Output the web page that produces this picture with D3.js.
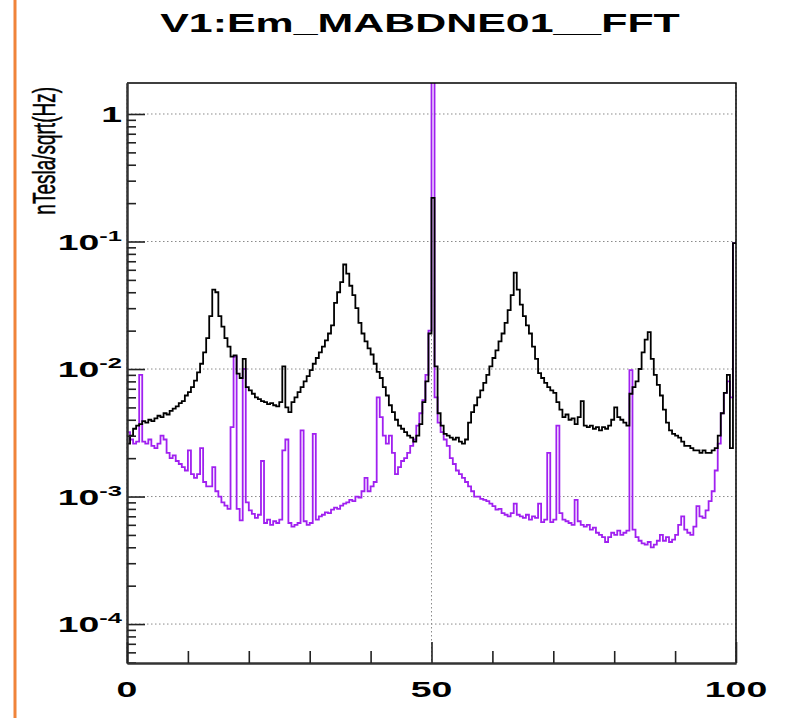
<!DOCTYPE html>
<html>
<head>
<meta charset="utf-8">
<script src="https://cdn.jsdelivr.net/npm/d3@7"></script>
<style>
  html, body { margin: 0; padding: 0; background: #fff; }
  svg { display: block; font-family: "Liberation Sans", Arial, sans-serif; }
</style>
</head>
<body>
<svg id="chart" width="785" height="718"></svg>
<script>
// chart.js — FFT spectrum, two step histograms on a log axis

const TITLE = "V1:Em_MABDNE01__FFT";
const Y_TITLE = "nTesla/sqrt(Hz)";
const BIN_WIDTH = 0.5;   // Hz

const X_LABELS = [0, 50, 100];
const X_MINOR = [10, 20, 30, 40, 60, 70, 80, 90];
const Y_DECADES = [1e-4, 1e-3, 1e-2, 1e-1, 1];
const Y_LABELS = [["10", "-4"], ["10", "-3"], ["10", "-2"], ["10", "-1"], ["1", ""]];

// black trace, one value per 0.5 Hz bin (0 .. 99.5 Hz)
const blackTrace = [
  0.0026,0.0030,0.0034,0.0036,0.0037,0.0039,0.0038,0.0040,0.0039,0.0041,
  0.0043,0.0042,0.0045,0.0044,0.0047,0.0049,0.0051,0.0054,0.0056,0.0062,
  0.0066,0.0072,0.0081,0.0094,0.0110,0.0135,0.0175,0.0260,0.0420,0.0400,
  0.0260,0.0215,0.0175,0.0150,0.0125,0.0128,0.0092,0.0085,0.0120,0.0072,
  0.0068,0.0064,0.0060,0.0058,0.0056,0.0055,0.0053,0.0054,0.0052,0.0051,
  0.0055,0.0105,0.0050,0.0046,0.0055,0.0060,0.0066,0.0072,0.0080,0.0088,
  0.0098,0.0110,0.0122,0.0135,0.0150,0.0168,0.0190,0.0220,0.0330,0.0400,
  0.0480,0.0660,0.0560,0.0450,0.0380,0.0300,0.0230,0.0190,0.0165,0.0145,
  0.0130,0.0110,0.0095,0.0085,0.0072,0.0062,0.0052,0.0046,0.0040,0.0036,
  0.0034,0.0032,0.0030,0.0029,0.0027,0.0030,0.0037,0.0055,0.0080,0.0190,
  0.2200,0.0105,0.0045,0.0036,0.0031,0.0030,0.0029,0.0028,0.0029,0.0027,
  0.0026,0.0028,0.0038,0.0046,0.0052,0.0060,0.0068,0.0078,0.0090,0.0105,
  0.0122,0.0140,0.0165,0.0190,0.0230,0.0290,0.0380,0.0570,0.0420,0.0320,
  0.0260,0.0220,0.0190,0.0150,0.0120,0.0093,0.0085,0.0078,0.0072,0.0068,
  0.0065,0.0055,0.0048,0.0042,0.0044,0.0040,0.0041,0.0037,0.0042,0.0056,
  0.0036,0.0035,0.0036,0.0034,0.0035,0.0033,0.0035,0.0034,0.0036,0.0040,
  0.0050,0.0042,0.0040,0.0038,0.0036,0.0064,0.0072,0.0080,0.0100,0.0135,
  0.0170,0.0195,0.0120,0.0090,0.0075,0.0062,0.0048,0.0038,0.0033,0.0031,
  0.0030,0.0029,0.0027,0.0025,0.0025,0.0024,0.0023,0.0023,0.0022,0.0023,
  0.0022,0.0022,0.0023,0.0024,0.0030,0.0045,0.0065,0.0090,0.0024,0.0970
];

// violet trace, same bins
const violetTrace = [
  0.0032,0.0028,0.0026,0.0027,0.0090,0.0027,0.0026,0.0028,0.0025,0.0024,
  0.0026,0.0030,0.0028,0.0022,0.0020,0.0021,0.0019,0.0018,0.0017,0.0016,
  0.0023,0.0015,0.0014,0.0015,0.0024,0.0013,0.0012,0.0012,0.0017,0.0011,
  0.0010,0.00090,0.00085,0.00080,0.0035,0.0125,0.00080,0.00065,0.0100,0.00090,
  0.00078,0.00073,0.00068,0.00072,0.0019,0.00062,0.00066,0.00060,0.00064,0.00062,
  0.00066,0.0023,0.0028,0.00062,0.00058,0.00060,0.00062,0.0033,0.00064,0.00060,
  0.00062,0.0031,0.00066,0.00070,0.00072,0.00075,0.00074,0.00079,0.00082,0.00080,
  0.00085,0.00088,0.00090,0.00094,0.00092,0.0010,0.00098,0.0011,0.0014,0.0011,
  0.0012,0.0013,0.0060,0.0042,0.0030,0.0026,0.0030,0.0022,0.0015,0.0017,
  0.0019,0.0020,0.0022,0.0025,0.0028,0.0036,0.0045,0.0057,0.0090,0.0200,
  3.0,0.0060,0.0038,0.0032,0.0028,0.0025,0.0020,0.0018,0.0016,0.0015,
  0.0014,0.0013,0.0012,0.0011,0.0010,0.0010,0.00096,0.00094,0.00092,0.00088,
  0.00084,0.00079,0.00080,0.00074,0.00072,0.00070,0.00074,0.00088,0.00072,0.00070,
  0.00068,0.00072,0.00066,0.00070,0.00068,0.00088,0.00063,0.00066,0.0022,0.00063,
  0.00066,0.0036,0.00074,0.00066,0.00064,0.00062,0.00060,0.00094,0.00064,0.00060,
  0.00058,0.00060,0.00055,0.00057,0.00052,0.00050,0.00048,0.00044,0.00048,0.00052,
  0.00050,0.00054,0.00050,0.00052,0.00054,0.0098,0.00055,0.00048,0.00045,0.00043,
  0.00042,0.00044,0.00040,0.00042,0.00045,0.00050,0.00045,0.00048,0.00044,0.00046,
  0.00050,0.00060,0.00070,0.00055,0.00052,0.00050,0.00058,0.00084,0.00070,0.00068,
  0.00078,0.00092,0.0011,0.0016,0.0026,0.0045,0.0065,0.0080,0.0060,0.0970
];

const SX = 1.7;   // the picture is stretched sideways; text follows it

const svg = d3.select("#chart");
const L = 127, R = 736, T = 83, B = 663;

const x = d3.scaleLinear().domain([0, 100]).range([L, R]);
const y = d3.scaleLog().domain([4.95e-5, 1.75]).range([B, T]);

// orange edge line on the left of the page
svg.append("line").attr("x1", 15).attr("x2", 15).attr("y1", 0).attr("y2", 718)
  .attr("stroke", "#f0843a").attr("stroke-width", 3);

// grid
const grid = svg.append("g").attr("stroke", "#8a8a8a").attr("stroke-width", 1)
  .attr("stroke-dasharray", "1.5,2.5");
grid.selectAll(".gy").data(Y_DECADES).join("line")
  .attr("x1", L).attr("x2", R).attr("y1", d => y(d)).attr("y2", d => y(d));
grid.selectAll(".gx").data(X_LABELS).join("line")
  .attr("y1", T).attr("y2", B).attr("x1", d => x(d)).attr("x2", d => x(d));

// histograms
svg.append("clipPath").attr("id", "plotclip").append("rect")
  .attr("x", L).attr("y", T).attr("width", R - L).attr("height", B - T);

function stepPoints(vals) {
  const pts = vals.map((v, i) => [i * BIN_WIDTH, v]);
  pts.push([vals.length * BIN_WIDTH, vals[vals.length - 1]]);
  return pts;
}
const stepLine = d3.line().x(d => x(d[0])).y(d => y(d[1])).curve(d3.curveStepAfter);

const plot = svg.append("g").attr("clip-path", "url(#plotclip)");
plot.append("path").datum(stepPoints(violetTrace)).attr("d", stepLine)
  .attr("fill", "none").attr("stroke", "#a020f0").attr("stroke-width", 1.8);
plot.append("path").datum(stepPoints(blackTrace)).attr("d", stepLine)
  .attr("fill", "none").attr("stroke", "#000").attr("stroke-width", 1.8);

// frame
svg.append("path").attr("d", `M${L},${T}H${R}V${B}`).attr("fill", "none")
  .attr("stroke", "#000").attr("stroke-width", 1.5);

// y axis ticks (inward)
const yMinor = [];
[1e-5, 1e-4, 1e-3, 1e-2, 1e-1].forEach(dec => {
  for (let k = 2; k <= 9; k++) {
    const v = dec * k;
    if (v >= y.domain()[0] && v <= y.domain()[1]) yMinor.push(v);
  }
});
const yAxisMajor = d3.axisLeft(y).tickValues(Y_DECADES).tickSize(-18).tickSizeOuter(0).tickFormat("");
const yAxisMinor = d3.axisLeft(y).tickValues(yMinor).tickSize(-9).tickSizeOuter(0).tickFormat("");
const gy1 = svg.append("g").attr("transform", `translate(${L},0)`).call(yAxisMajor);
const gy2 = svg.append("g").attr("transform", `translate(${L},0)`).call(yAxisMinor);

// x axis ticks (inward)
const xAxisMajor = d3.axisBottom(x).tickValues(X_LABELS).tickSize(-21).tickSizeOuter(0).tickFormat("");
const xAxisMinor = d3.axisBottom(x).tickValues(X_MINOR).tickSize(-12).tickSizeOuter(0).tickFormat("");
const gx1 = svg.append("g").attr("transform", `translate(0,${B})`).call(xAxisMajor);
const gx2 = svg.append("g").attr("transform", `translate(0,${B})`).call(xAxisMinor);

[gy1, gy2, gx1, gx2].forEach(g => {
  g.selectAll("line").attr("stroke", "#222").attr("stroke-width", 1.6);
  g.select(".domain").attr("stroke", "#333").attr("stroke-width", 2);
});

// tick labels
const yl = svg.append("g").attr("font-weight", "bold").attr("fill", "#000");
Y_DECADES.forEach((d, i) => {
  const t = yl.append("text")
    .attr("transform", `translate(${L - 5},${y(d) + 8}) scale(${SX},1)`)
    .attr("text-anchor", "end").attr("font-size", 22);
  t.append("tspan").text(Y_LABELS[i][0]);
  if (Y_LABELS[i][1]) {
    t.append("tspan").attr("dy", -9).attr("font-size", 15).text(Y_LABELS[i][1]);
  }
});

const xl = svg.append("g").attr("font-weight", "bold").attr("fill", "#000");
X_LABELS.forEach(d => {
  xl.append("text")
    .attr("transform", `translate(${x(d)},697) scale(${SX},1)`)
    .attr("text-anchor", "middle").attr("font-size", 22).text(d);
});

// title
svg.append("text").attr("transform", `translate(420,32) scale(1.65,1)`)
  .attr("text-anchor", "middle").attr("font-size", 26).attr("font-weight", "bold")
  .text(TITLE);

// y axis title, top-aligned
svg.append("text").attr("transform", `translate(55,87) scale(1.65,1) rotate(-90)`)
  .attr("text-anchor", "end").attr("font-size", 19)
  .attr("stroke", "#000").attr("stroke-width", 0.3).text(Y_TITLE);
</script>
</body>
</html>
